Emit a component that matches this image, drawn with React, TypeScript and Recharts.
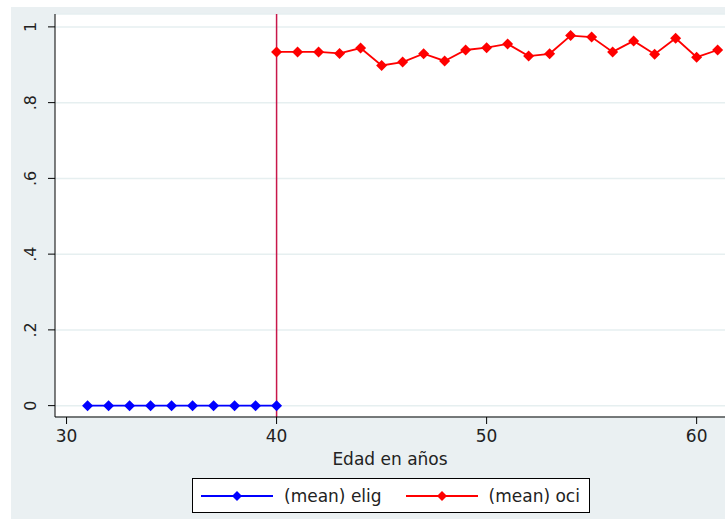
import { LineChart, Line, XAxis, YAxis, CartesianGrid, ReferenceLine } from "recharts";

const eligAges = [31, 32, 33, 34, 35, 36, 37, 38, 39, 40];
const eligValues = [0, 0, 0, 0, 0, 0, 0, 0, 0, 0];

const ociAges = [40, 41, 42, 43, 44, 45, 46, 47, 48, 49, 50, 51, 52, 53, 54, 55, 56, 57, 58, 59, 60, 61];
const ociValues = [
  0.934, 0.934, 0.934, 0.93, 0.944, 0.898, 0.907, 0.929, 0.91, 0.939, 0.945,
  0.955, 0.923, 0.929, 0.977, 0.973, 0.934, 0.963, 0.928, 0.97, 0.92, 0.939,
];

const xTicks = [30, 40, 50, 60];
const yTicks = [0, 0.2, 0.4, 0.6, 0.8, 1];
const yTickLabels = ["0", ".2", ".4", ".6", ".8", "1"];
const cutoffAge = 40;
const seriesNames = ["(mean) elig", "(mean) oci"];

const eligData = eligAges.map((age, i) => ({ age, elig: eligValues[i] }));
const ociData = ociAges.map((age, i) => ({ age, oci: ociValues[i] }));

const FONT = "'DejaVu Sans', 'Liberation Sans', Arial, sans-serif";
const BG = "#eaf0f2";

function Diamond(props: any) {
  const { cx, cy, fill } = props;
  if (cx == null || cy == null) return null;
  const r = 5.5;
  return (
    <polygon
      points={`${cx},${cy - r} ${cx + r},${cy} ${cx},${cy + r} ${cx - r},${cy}`}
      fill={fill}
      stroke="none"
    />
  );
}

function YTick(props: any) {
  const { x, y, payload } = props;
  const idx = yTicks.indexOf(payload.value);
  return (
    <text
      x={0}
      y={0}
      transform={`translate(${x - 10},${y}) rotate(-90)`}
      textAnchor="middle"
      fontSize={16}
      fontFamily={FONT}
      fill="#222"
    >
      {idx >= 0 ? yTickLabels[idx] : payload.value}
    </text>
  );
}

function LegendBox() {
  const item = (color: string, label: string) => (
    <div style={{ display: "flex", alignItems: "center", whiteSpace: "nowrap" }}>
      <svg width={72} height={12} style={{ marginRight: 11 }}>
        <line x1={0} y1={6} x2={72} y2={6} stroke={color} strokeWidth={1.8} />
        <polygon points="36,1 41,6 36,11 31,6" fill={color} />
      </svg>
      <span>{label}</span>
    </div>
  );
  return (
    <div
      style={{
        position: "absolute",
        left: 192,
        top: 478,
        boxSizing: "border-box",
        width: 398,
        height: 35,
        border: "1px solid #000",
        background: "#fff",
        display: "flex",
        alignItems: "center",
        paddingLeft: 8,
        fontFamily: FONT,
        fontSize: 17,
        color: "#222",
      }}
    >
      {item("#0000ff", seriesNames[0])}
      <div style={{ width: 24 }} />
      {item("#ff0000", seriesNames[1])}
    </div>
  );
}

export default function App() {
  return (
    <div style={{ position: "absolute", left: 0, top: 0, width: 725, height: 519, overflow: "hidden", background: "#fff" }}>
      <div style={{ position: "absolute", left: 11, top: 7, width: 714, height: 512, background: BG }} />
      <LineChart
        width={725}
        height={519}
        margin={{ top: 14, right: 0, bottom: 52, left: 11 }}
        style={{ position: "absolute", left: 0, top: 0 }}
      >
        <CartesianGrid
          horizontal
          vertical={false}
          fill="#ffffff"
          stroke="#e6eff0"
          strokeWidth={1.5}
        />
        <XAxis
          dataKey="age"
          type="number"
          domain={[29.45, 61.35]}
          ticks={xTicks}
          allowDataOverflow
          height={50}
          stroke="#000"
          tickSize={7}
          tick={{ fontSize: 17, fontFamily: FONT, fill: "#222" }}
          tickMargin={6}
          label={{
            value: "Edad en años",
            position: "insideBottom",
            offset: 2,
            fontSize: 17,
            fontFamily: FONT,
            fill: "#222",
          }}
        />
        <YAxis
          type="number"
          domain={[-0.03, 1.034]}
          ticks={yTicks}
          allowDataOverflow
          width={44}
          stroke="#000"
          tickSize={7}
          tick={<YTick />}
        />
        <ReferenceLine x={cutoffAge} stroke="#c8174a" strokeWidth={1.5} />
        <Line
          data={eligData}
          dataKey="elig"
          name={seriesNames[0]}
          stroke="#0000ff"
          strokeWidth={1.8}
          dot={<Diamond fill="#0000ff" />}
          activeDot={false}
          isAnimationActive={false}
        />
        <Line
          data={ociData}
          dataKey="oci"
          name={seriesNames[1]}
          stroke="#ff0000"
          strokeWidth={1.8}
          dot={<Diamond fill="#ff0000" />}
          activeDot={false}
          isAnimationActive={false}
        />
      </LineChart>
      <LegendBox />
    </div>
  );
}
